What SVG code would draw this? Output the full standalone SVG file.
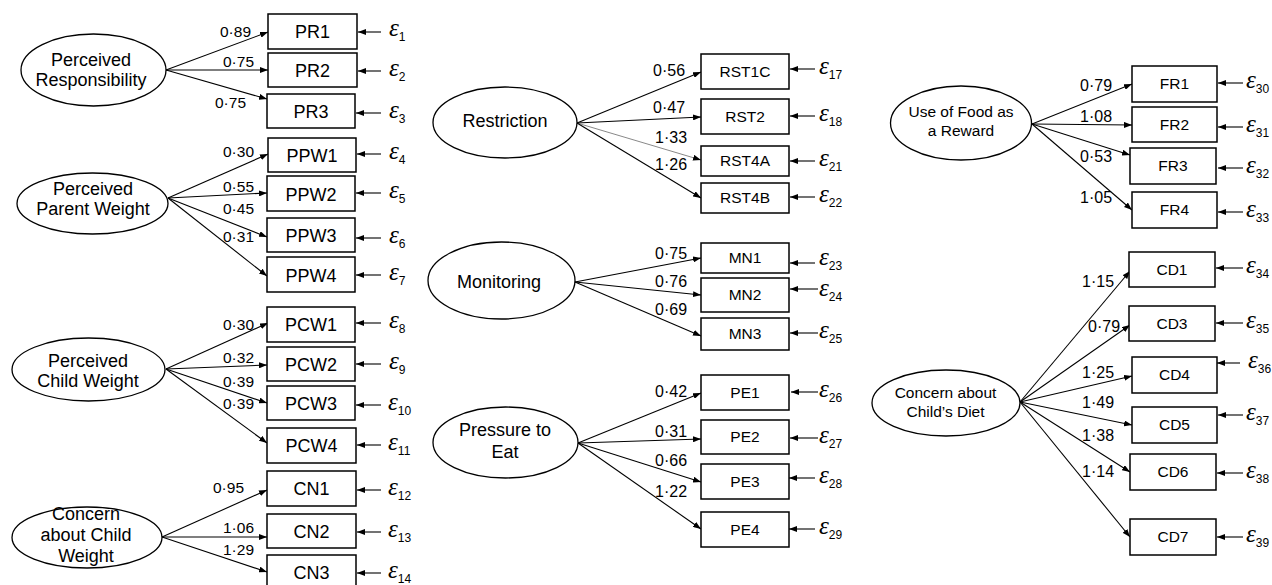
<svg xmlns="http://www.w3.org/2000/svg" width="1272" height="585" viewBox="0 0 1272 585">
<defs>
<marker id="ah" markerWidth="8" markerHeight="6" refX="8" refY="3" orient="auto" markerUnits="userSpaceOnUse"><path d="M0,0 L8,3 L0,6 z" fill="#000"/></marker>
<style>
.bx{fill:#fff;stroke:#000;stroke-width:1.5}
.el{fill:#fff;stroke:#000;stroke-width:1.3}
.ln{stroke:#000;stroke-width:1.1;fill:none;marker-end:url(#ah)}
.lt{stroke:#555;stroke-width:0.7;fill:none;marker-end:url(#ah)}
text{font-family:"Liberation Sans",Arial,sans-serif;fill:#000}
.t17{font-size:18px;text-anchor:middle}
.t15{font-size:15.5px;text-anchor:middle}
.e18{font-size:18px;text-anchor:middle}
.e15{font-size:15.5px;text-anchor:middle}
.lb{font-size:15.5px}
.lb2{font-size:16px}
.eps{font-family:"Liberation Serif","Times New Roman",serif;font-style:italic;font-size:25px}
.sub{font-family:"Liberation Sans",Arial,sans-serif;font-style:normal;font-size:12px}
</style>
</defs>
<rect width="1272" height="585" fill="#fff"/>

<g id="connectors">
<line class="ln" x1="166" y1="70" x2="268" y2="32"/>
<line class="ln" x1="166" y1="70" x2="268" y2="70"/>
<line class="ln" x1="166" y1="70" x2="267" y2="99"/>
<line class="ln" x1="168" y1="198" x2="268" y2="154"/>
<line class="ln" x1="168" y1="198" x2="267" y2="193"/>
<line class="ln" x1="168" y1="198" x2="267" y2="237"/>
<line class="ln" x1="168" y1="198" x2="267" y2="276"/>
<line class="ln" x1="166" y1="369" x2="268" y2="323"/>
<line class="ln" x1="166" y1="369" x2="267" y2="365"/>
<line class="ln" x1="166" y1="369" x2="267" y2="403"/>
<line class="ln" x1="166" y1="369" x2="267" y2="443"/>
<line class="ln" x1="162" y1="537" x2="267" y2="490"/>
<line class="ln" x1="162" y1="537" x2="267" y2="537"/>
<line class="ln" x1="162" y1="537" x2="267" y2="572"/>
<line class="ln" x1="577" y1="123" x2="701" y2="72"/>
<line class="ln" x1="577" y1="123" x2="701" y2="117"/>
<line class="lt" x1="577" y1="123" x2="701" y2="160"/>
<line class="ln" x1="577" y1="123" x2="701" y2="198"/>
<line class="ln" x1="575" y1="282" x2="701" y2="258"/>
<line class="ln" x1="575" y1="282" x2="701" y2="295"/>
<line class="ln" x1="575" y1="282" x2="701" y2="336"/>
<line class="ln" x1="578" y1="443" x2="701" y2="393"/>
<line class="ln" x1="578" y1="443" x2="701" y2="439"/>
<line class="ln" x1="578" y1="443" x2="701" y2="482"/>
<line class="ln" x1="578" y1="443" x2="701" y2="529"/>
<line class="ln" x1="1032" y1="124" x2="1132" y2="84"/>
<line class="ln" x1="1032" y1="124" x2="1132" y2="125"/>
<line class="ln" x1="1032" y1="124" x2="1130" y2="155"/>
<line class="ln" x1="1032" y1="124" x2="1132" y2="210"/>
<line class="ln" x1="1020" y1="402" x2="1130" y2="271"/>
<line class="ln" x1="1020" y1="402" x2="1130" y2="325"/>
<line class="ln" x1="1020" y1="402" x2="1132" y2="376"/>
<line class="ln" x1="1020" y1="402" x2="1132" y2="425"/>
<line class="ln" x1="1020" y1="402" x2="1130" y2="472"/>
<line class="ln" x1="1020" y1="402" x2="1130" y2="537"/>
<line class="ln" x1="381" y1="32" x2="358" y2="32"/>
<line class="ln" x1="381" y1="71" x2="358" y2="71"/>
<line class="ln" x1="381" y1="113" x2="356" y2="113"/>
<line class="ln" x1="381" y1="154" x2="357" y2="154"/>
<line class="ln" x1="381" y1="193" x2="356" y2="193"/>
<line class="ln" x1="381" y1="238" x2="356" y2="238"/>
<line class="ln" x1="381" y1="275" x2="356" y2="275"/>
<line class="ln" x1="381" y1="323" x2="356" y2="323"/>
<line class="ln" x1="381" y1="364" x2="356" y2="364"/>
<line class="ln" x1="381" y1="405" x2="356" y2="405"/>
<line class="ln" x1="381" y1="445" x2="357" y2="445"/>
<line class="ln" x1="381" y1="490" x2="357" y2="490"/>
<line class="ln" x1="381" y1="532" x2="357" y2="532"/>
<line class="ln" x1="381" y1="573" x2="357" y2="573"/>
<line class="ln" x1="815" y1="69" x2="790" y2="69"/>
<line class="ln" x1="815" y1="116" x2="790" y2="116"/>
<line class="ln" x1="815" y1="161" x2="790" y2="161"/>
<line class="ln" x1="815" y1="197" x2="790" y2="197"/>
<line class="ln" x1="815" y1="263" x2="790" y2="263"/>
<line class="ln" x1="818" y1="289" x2="790" y2="289"/>
<line class="ln" x1="818" y1="333" x2="790" y2="333"/>
<line class="ln" x1="818" y1="392" x2="791" y2="392"/>
<line class="ln" x1="818" y1="438" x2="790" y2="438"/>
<line class="ln" x1="815" y1="478" x2="789" y2="478"/>
<line class="ln" x1="815" y1="529" x2="789" y2="529"/>
<line class="ln" x1="1243" y1="83" x2="1218" y2="83"/>
<line class="ln" x1="1243" y1="127" x2="1218" y2="127"/>
<line class="ln" x1="1243" y1="168" x2="1218" y2="168"/>
<line class="ln" x1="1243" y1="212" x2="1218" y2="212"/>
<line class="ln" x1="1243" y1="268" x2="1216" y2="268"/>
<line class="ln" x1="1243" y1="323" x2="1216" y2="323"/>
<line class="ln" x1="1240" y1="363" x2="1217" y2="363"/>
<line class="ln" x1="1243" y1="415" x2="1218" y2="415"/>
<line class="ln" x1="1243" y1="473" x2="1217" y2="473"/>
<line class="ln" x1="1243" y1="537" x2="1217" y2="537"/>
</g>

<g id="loadings">
<text class="lb" x="220" y="37">0·89</text>
<text class="lb" x="223" y="67">0·75</text>
<text class="lb" x="215" y="108">0·75</text>
<text class="lb" x="223" y="157">0·30</text>
<text class="lb" x="223" y="192">0·55</text>
<text class="lb" x="223" y="214">0·45</text>
<text class="lb" x="223" y="242">0·31</text>
<text class="lb" x="223" y="330">0·30</text>
<text class="lb" x="223" y="363">0·32</text>
<text class="lb" x="223" y="387">0·39</text>
<text class="lb" x="223" y="409">0·39</text>
<text class="lb" x="213" y="493">0·95</text>
<text class="lb" x="223" y="533">1·06</text>
<text class="lb" x="223" y="555">1·29</text>
<text class="lb2" x="653" y="76">0·56</text>
<text class="lb2" x="653" y="113">0·47</text>
<text class="lb2" x="655" y="143">1·33</text>
<text class="lb2" x="655" y="170">1·26</text>
<text class="lb2" x="655" y="259">0·75</text>
<text class="lb2" x="655" y="287">0·76</text>
<text class="lb2" x="655" y="315">0·69</text>
<text class="lb2" x="655" y="397">0·42</text>
<text class="lb2" x="655" y="437">0·31</text>
<text class="lb2" x="655" y="466">0·66</text>
<text class="lb2" x="655" y="497">1·22</text>
<text class="lb2" x="1080" y="91">0·79</text>
<text class="lb2" x="1080" y="122">1·08</text>
<text class="lb2" x="1080" y="162">0·53</text>
<text class="lb2" x="1080" y="203">1·05</text>
<text class="lb2" x="1082" y="287">1·15</text>
<text class="lb2" x="1088" y="332">0·79</text>
<text class="lb2" x="1082" y="378">1·25</text>
<text class="lb2" x="1082" y="408">1·49</text>
<text class="lb2" x="1082" y="441">1·38</text>
<text class="lb2" x="1082" y="477">1·14</text>
</g>

<g id="errors">
<text class="eps" x="389" y="36">ε<tspan class="sub" dy="5">1</tspan></text>
<text class="eps" x="389" y="76">ε<tspan class="sub" dy="5">2</tspan></text>
<text class="eps" x="389" y="118">ε<tspan class="sub" dy="5">3</tspan></text>
<text class="eps" x="389" y="159">ε<tspan class="sub" dy="5">4</tspan></text>
<text class="eps" x="389" y="198">ε<tspan class="sub" dy="5">5</tspan></text>
<text class="eps" x="389" y="243">ε<tspan class="sub" dy="5">6</tspan></text>
<text class="eps" x="389" y="280">ε<tspan class="sub" dy="5">7</tspan></text>
<text class="eps" x="389" y="328">ε<tspan class="sub" dy="5">8</tspan></text>
<text class="eps" x="389" y="369">ε<tspan class="sub" dy="5">9</tspan></text>
<text class="eps" x="388" y="410">ε<tspan class="sub" dy="5">10</tspan></text>
<text class="eps" x="388" y="450">ε<tspan class="sub" dy="5">11</tspan></text>
<text class="eps" x="388" y="495">ε<tspan class="sub" dy="5">12</tspan></text>
<text class="eps" x="388" y="537">ε<tspan class="sub" dy="5">13</tspan></text>
<text class="eps" x="388" y="578">ε<tspan class="sub" dy="5">14</tspan></text>
<text class="eps" x="819" y="74">ε<tspan class="sub" dy="5">17</tspan></text>
<text class="eps" x="819" y="121">ε<tspan class="sub" dy="5">18</tspan></text>
<text class="eps" x="819" y="166">ε<tspan class="sub" dy="5">21</tspan></text>
<text class="eps" x="819" y="202">ε<tspan class="sub" dy="5">22</tspan></text>
<text class="eps" x="819" y="265">ε<tspan class="sub" dy="5">23</tspan></text>
<text class="eps" x="819" y="296">ε<tspan class="sub" dy="5">24</tspan></text>
<text class="eps" x="819" y="338">ε<tspan class="sub" dy="5">25</tspan></text>
<text class="eps" x="819" y="397">ε<tspan class="sub" dy="5">26</tspan></text>
<text class="eps" x="819" y="443">ε<tspan class="sub" dy="5">27</tspan></text>
<text class="eps" x="819" y="483">ε<tspan class="sub" dy="5">28</tspan></text>
<text class="eps" x="819" y="534">ε<tspan class="sub" dy="5">29</tspan></text>
<text class="eps" x="1246" y="88">ε<tspan class="sub" dy="5">30</tspan></text>
<text class="eps" x="1246" y="132">ε<tspan class="sub" dy="5">31</tspan></text>
<text class="eps" x="1246" y="173">ε<tspan class="sub" dy="5">32</tspan></text>
<text class="eps" x="1246" y="217">ε<tspan class="sub" dy="5">33</tspan></text>
<text class="eps" x="1246" y="273">ε<tspan class="sub" dy="5">34</tspan></text>
<text class="eps" x="1246" y="328">ε<tspan class="sub" dy="5">35</tspan></text>
<text class="eps" x="1248" y="368">ε<tspan class="sub" dy="5">36</tspan></text>
<text class="eps" x="1246" y="420">ε<tspan class="sub" dy="5">37</tspan></text>
<text class="eps" x="1246" y="478">ε<tspan class="sub" dy="5">38</tspan></text>
<text class="eps" x="1246" y="542">ε<tspan class="sub" dy="5">39</tspan></text>
</g>

<g id="PR"><ellipse class="el" cx="93.5" cy="70" rx="72.5" ry="36"/><text class="e18" x="91" y="66">Perceived</text><text class="e18" x="91" y="86">Responsibility</text></g>
<g id="PPW"><ellipse class="el" cx="92.5" cy="203.5" rx="75.5" ry="30.5"/><text class="e18" x="93" y="195">Perceived</text><text class="e18" x="93" y="215">Parent Weight</text></g>
<g id="PCW"><ellipse class="el" cx="88.5" cy="369.5" rx="76.5" ry="31.5"/><text class="e18" x="88" y="367">Perceived</text><text class="e18" x="88" y="387">Child Weight</text></g>
<g id="CN"><ellipse class="el" cx="87" cy="537.5" rx="75" ry="30.5"/><text class="e18" x="86" y="520">Concern</text><text class="e18" x="86" y="541">about Child</text><text class="e18" x="86" y="562">Weight</text></g>
<g id="RST"><ellipse class="el" cx="505" cy="122.5" rx="72" ry="35.5"/><text class="e18" x="505" y="127">Restriction</text></g>
<g id="MN"><ellipse class="el" cx="501.5" cy="280.5" rx="73.5" ry="38.5"/><text class="e18" x="499" y="288">Monitoring</text></g>
<g id="PE"><ellipse class="el" cx="505.5" cy="442.5" rx="72.5" ry="35.5"/><text class="e18" x="505" y="436">Pressure to</text><text class="e18" x="505" y="458">Eat</text></g>
<g id="FR"><ellipse class="el" cx="961" cy="123" rx="70.5" ry="37"/><text class="e15" x="961" y="117">Use of Food as</text><text class="e15" x="961" y="136">a Reward</text></g>
<g id="CD"><ellipse class="el" cx="946" cy="403" rx="74" ry="33"/><text class="e15" x="945.5" y="398">Concern about</text><text class="e15" x="945.5" y="417">Child’s Diet</text></g>

<g id="PR1"><rect class="bx" x="268" y="14" width="89" height="35"/><text class="t17" x="312.5" y="38">PR1</text></g>
<g id="PR2"><rect class="bx" x="268" y="53" width="89" height="34"/><text class="t17" x="312.5" y="77">PR2</text></g>
<g id="PR3"><rect class="bx" x="267" y="94" width="88" height="34"/><text class="t17" x="311" y="118">PR3</text></g>
<g id="PPW1"><rect class="bx" x="268" y="138" width="88" height="34"/><text class="t17" x="312" y="162">PPW1</text></g>
<g id="PPW2"><rect class="bx" x="267" y="176" width="88" height="35"/><text class="t17" x="311" y="201">PPW2</text></g>
<g id="PPW3"><rect class="bx" x="267" y="218" width="88" height="34"/><text class="t17" x="311" y="242">PPW3</text></g>
<g id="PPW4"><rect class="bx" x="267" y="257" width="88" height="35"/><text class="t17" x="311" y="282">PPW4</text></g>
<g id="PCW1"><rect class="bx" x="267" y="307" width="88" height="35"/><text class="t17" x="311" y="331">PCW1</text></g>
<g id="PCW2"><rect class="bx" x="267" y="347" width="88" height="34"/><text class="t17" x="311" y="371">PCW2</text></g>
<g id="PCW3"><rect class="bx" x="267" y="386" width="88" height="34"/><text class="t17" x="311" y="410">PCW3</text></g>
<g id="PCW4"><rect class="bx" x="267" y="428" width="89" height="35"/><text class="t17" x="311.5" y="452">PCW4</text></g>
<g id="CN1"><rect class="bx" x="267" y="471" width="89" height="35"/><text class="t17" x="311.5" y="495">CN1</text></g>
<g id="CN2"><rect class="bx" x="267" y="514" width="89" height="34"/><text class="t17" x="311.5" y="538">CN2</text></g>
<g id="CN3"><rect class="bx" x="267" y="555" width="89" height="35"/><text class="t17" x="311.5" y="579">CN3</text></g>

<g id="RST1C"><rect class="bx" x="701" y="54" width="88" height="35"/><text class="t15" x="745" y="77">RST1C</text></g>
<g id="RST2"><rect class="bx" x="701" y="99" width="88" height="35"/><text class="t15" x="745" y="122">RST2</text></g>
<g id="RST4A"><rect class="bx" x="701" y="146" width="88" height="30"/><text class="t15" x="745" y="166">RST4A</text></g>
<g id="RST4B"><rect class="bx" x="701" y="183" width="88" height="30"/><text class="t15" x="745" y="203">RST4B</text></g>
<g id="MN1"><rect class="bx" x="701" y="243" width="88" height="30"/><text class="t15" x="745" y="263">MN1</text></g>
<g id="MN2"><rect class="bx" x="701" y="278" width="88" height="34"/><text class="t15" x="745" y="300">MN2</text></g>
<g id="MN3"><rect class="bx" x="701" y="318" width="88" height="32"/><text class="t15" x="745" y="339">MN3</text></g>
<g id="PE1"><rect class="bx" x="701" y="375" width="88" height="35"/><text class="t15" x="745" y="398">PE1</text></g>
<g id="PE2"><rect class="bx" x="701" y="420" width="88" height="34"/><text class="t15" x="745" y="442">PE2</text></g>
<g id="PE3"><rect class="bx" x="701" y="464" width="88" height="35"/><text class="t15" x="745" y="487">PE3</text></g>
<g id="PE4"><rect class="bx" x="701" y="512" width="88" height="35"/><text class="t15" x="745" y="535">PE4</text></g>

<g id="FR1"><rect class="bx" x="1132" y="66" width="85" height="36"/><text class="t15" x="1174.5" y="89">FR1</text></g>
<g id="FR2"><rect class="bx" x="1132" y="107" width="85" height="35"/><text class="t15" x="1174.5" y="130">FR2</text></g>
<g id="FR3"><rect class="bx" x="1130" y="148" width="86" height="36"/><text class="t15" x="1173" y="171">FR3</text></g>
<g id="FR4"><rect class="bx" x="1132" y="192" width="85" height="36"/><text class="t15" x="1174.5" y="215">FR4</text></g>
<g id="CD1"><rect class="bx" x="1129" y="252" width="86" height="35"/><text class="t15" x="1172" y="275">CD1</text></g>
<g id="CD3"><rect class="bx" x="1129" y="306" width="86" height="35"/><text class="t15" x="1172" y="329">CD3</text></g>
<g id="CD4"><rect class="bx" x="1132" y="357" width="85" height="36"/><text class="t15" x="1174.5" y="380">CD4</text></g>
<g id="CD5"><rect class="bx" x="1132" y="407" width="85" height="36"/><text class="t15" x="1174.5" y="430">CD5</text></g>
<g id="CD6"><rect class="bx" x="1130" y="454" width="86" height="36"/><text class="t15" x="1173" y="477">CD6</text></g>
<g id="CD7"><rect class="bx" x="1130" y="519" width="86" height="36"/><text class="t15" x="1173" y="542">CD7</text></g>
</svg>
